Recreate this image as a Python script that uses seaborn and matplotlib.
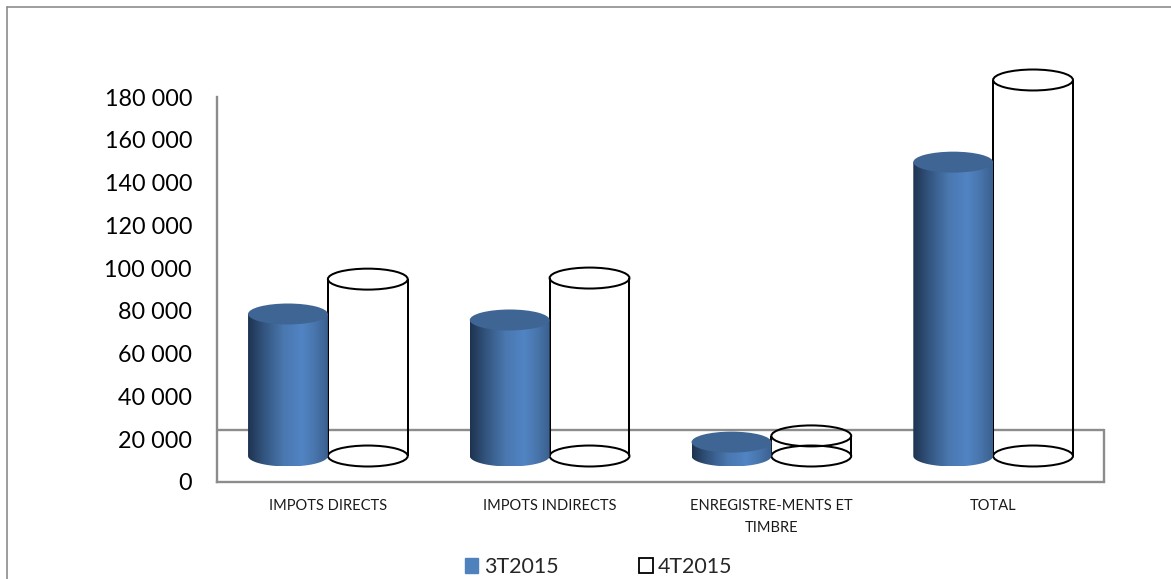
import numpy as np
import pandas as pd
import matplotlib
matplotlib.use("Agg")
import matplotlib.pyplot as plt
import seaborn as sns
from matplotlib.colors import LinearSegmentedColormap
from matplotlib.lines import Line2D
from matplotlib.patches import Ellipse, PathPatch, Rectangle
from matplotlib.path import Path

categories = ["IMPOTS DIRECTS", "IMPOTS INDIRECTS", "ENREGISTRE-MENTS ET\nTIMBRE", "TOTAL"]
values_3t = [66400, 63600, 6500, 137400]
values_4t = [82700, 83200, 9400, 175800]
series_names = ["3T2015", "4T2015"]
y_ticks = [0, 20000, 40000, 60000, 80000, 100000, 120000, 140000, 160000, 180000]

FLOOR_MID = 12150      # cylinders stand half way across the floor
FLOOR_BACK = 24300     # rear edge of the floor
CAP_RY = 4900          # vertical radius of the elliptical caps
GREY = "#8c8c8c"
BLUE = "#4f81bd"
CAP_BLUE = "#3f6594"
INK_LW = 1.45

sns.set_theme(style="white")
plt.rcParams["font.family"] = ["Lato", "DejaVu Sans"]

df = pd.DataFrame({
    "category": categories * 2,
    "series": [series_names[0]] * 4 + [series_names[1]] * 4,
    "value": values_3t + values_4t,
})

fig = plt.figure(figsize=(11.71, 5.79), dpi=100, facecolor="white")
ax = fig.add_axes([217 / 1171, (579 - 482) / 579, 887 / 1171, 385 / 579])
ax.patch.set_alpha(0)

sns.barplot(data=df, x="category", y="value", hue="series", order=categories,
            hue_order=series_names, palette=[BLUE, "white"], width=0.72, gap=0,
            legend=False, ax=ax, errorbar=None)

ax.set_xlim(-0.5, 3.5)
ax.set_ylim(0, 180000)
xlim, ylim = ax.get_xlim(), ax.get_ylim()

# Side shading of the blue cylinders
body_cmap = LinearSegmentedColormap.from_list(
    "cyl", [(0, "#1e3350"), (0.2, "#33557f"), (0.45, "#4a78b0"),
            (0.68, "#5184c4"), (0.85, "#4874aa"), (1, "#3a608f")])
gradient = np.linspace(0, 1, 256).reshape(1, -1)

bars = list(ax.patches)
n = len(categories)
theta = np.linspace(np.pi, 2 * np.pi, 60)

# Open cylinders go first so the solid ones sit in front of them
for bar in bars[n:]:
    left, w, h = bar.get_x(), bar.get_width(), bar.get_height()
    bar.set_visible(False)
    top = FLOOR_MID + h
    cx = left + w / 2
    for x_side in (left, left + w):
        ax.plot([x_side, x_side], [FLOOR_MID, top], color="black", lw=INK_LW,
                clip_on=False, zorder=3, solid_capstyle="butt")
    for yc in (FLOOR_MID, top):
        ax.add_patch(Ellipse((cx, yc), w, 2 * CAP_RY, facecolor="none",
                             edgecolor="black", lw=INK_LW, clip_on=False, zorder=3))

for bar in bars[:n]:
    left, w, h = bar.get_x(), bar.get_width(), bar.get_height()
    bar.set_visible(False)
    top = FLOOR_MID + h
    cx = left + w / 2
    arc_x = cx + w / 2 * np.cos(theta)
    arc_y = FLOOR_MID + CAP_RY * np.sin(theta)
    outline = np.vstack([[left, top], np.column_stack([arc_x, arc_y]),
                         [left + w, top], [left, top]])
    clip = PathPatch(Path(outline), transform=ax.transData, facecolor="none", edgecolor="none")
    ax.add_patch(clip)
    clip.set_clip_on(False)
    img = ax.imshow(gradient, cmap=body_cmap, aspect="auto", zorder=4,
                    extent=(left, left + w, FLOOR_MID - CAP_RY, top), origin="lower")
    img.set_clip_path(clip)
    ax.add_patch(Ellipse((cx, top), w, 2 * CAP_RY, facecolor=CAP_BLUE, edgecolor="none",
                         clip_on=False, zorder=5))

ax.set_xlim(xlim)
ax.set_ylim(ylim)

# Floor of the plot box
ax.plot(xlim, [FLOOR_BACK, FLOOR_BACK], color=GREY, lw=1.7, zorder=2, clip_on=False)
ax.plot([xlim[1], xlim[1]], [0, FLOOR_BACK], color=GREY, lw=1.7, zorder=2, clip_on=False)

sns.despine(ax=ax, top=True, right=True)
for side in ("left", "bottom"):
    ax.spines[side].set_color(GREY)
    ax.spines[side].set_linewidth(1.7)

ax.set_xlabel("")
ax.set_ylabel("")
ax.set_yticks(y_ticks)
ax.set_yticklabels([f"{v:,}".replace(",", " ") for v in y_ticks], fontsize=16.8, color="black")
ax.tick_params(axis="y", length=0, pad=18)
ax.tick_params(axis="x", length=0, pad=12, labelsize=10.5, labelcolor="#1a1a1a")
for label in ax.get_xticklabels():
    label.set_linespacing(1.75)

# Outer chart frame
fig.add_artist(Line2D([7 / 1171, 7 / 1171], [0, 1 - 7 / 579], color=GREY, lw=1.2))
fig.add_artist(Line2D([7 / 1171, 1], [1 - 7 / 579, 1 - 7 / 579], color=GREY, lw=1.2))

handles = [Rectangle((0, 0), 1, 1, facecolor=BLUE, edgecolor=BLUE),
           Rectangle((0, 0), 1, 1, facecolor="white", edgecolor="black", lw=1.3)]
fig.legend(handles, series_names, loc="center", bbox_to_anchor=(598.5 / 1171, 1 - 567 / 579),
           ncol=2, frameon=False, fontsize=15.4, columnspacing=3.75, handlelength=0.65,
           handleheight=0.65, handletextpad=0.25, borderpad=0, borderaxespad=0)

fig.savefig("out.png", dpi=100)
